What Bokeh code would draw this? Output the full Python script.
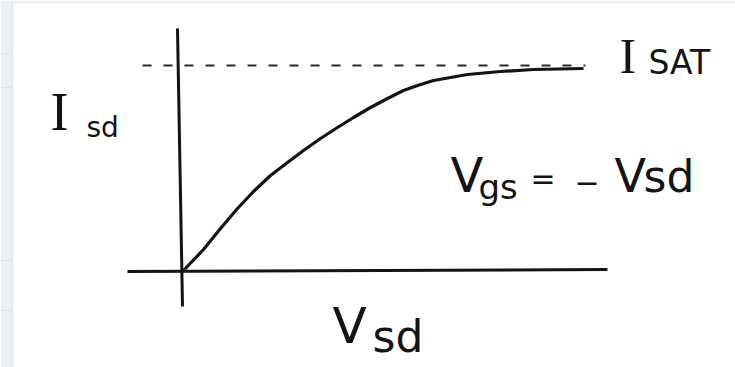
from bokeh.plotting import figure
from bokeh.models import Range1d, ColumnDataSource
from bokeh.core.properties import value
from bokeh.embed import file_html
from bokeh.resources import INLINE

# Output characteristic of the device: drain current vs. source-drain voltage
v_sd = [0.00, 0.20, 0.37, 0.54, 0.70, 0.87, 1.04, 1.20, 1.37, 1.54,
        1.70, 1.87, 2.04, 2.20, 2.34, 2.50, 2.84, 3.17, 3.50, 4.00]
i_sd = [0.00, 0.21, 0.42, 0.62, 0.79, 0.95, 1.08, 1.20, 1.32, 1.43,
        1.53, 1.63, 1.72, 1.80, 1.85, 1.90, 1.96, 1.99, 2.01, 2.02]
i_sat = 2.05

# hand-drawn axes extents
x_axis_v = [-0.56, 4.24]
x_axis_i = [-0.01, 0.01]
y_axis_v = [-0.06, -0.01]
y_axis_i = [2.42, -0.36]
sat_v = [-0.41, 4.02]

INK = "#141414"
SANS = "DejaVu Sans"
SERIF = "Liberation Serif"

p = figure(width=735, height=367, output_backend="svg", toolbar_location=None,
           x_range=Range1d(-1.83, 5.52), y_range=Range1d(-0.97, 2.70),
           min_border=0, background_fill_color="white", border_fill_color="white")
p.axis.visible = False
p.grid.visible = False
p.outline_line_color = None

# paper margin strips
p.quad(left=-1.83, right=-1.71, bottom=-0.97, top=2.70,
       fill_color="#edf1f6", line_color=None)
p.quad(left=-1.83, right=5.52, bottom=2.67, top=2.70,
       fill_color="#edf1f6", line_color=None)
p.segment(x0=-1.71, y0=-0.97, x1=-1.71, y1=2.70, line_color="#dce3ec", line_width=1)
for yy in [2.17, 1.83, 0.10, -0.40]:
    p.segment(x0=-1.83, y0=yy, x1=-1.71, y1=yy, line_color="#dfe5ee", line_width=1)

# axes
p.line(x_axis_v, x_axis_i, line_color=INK, line_width=3)
p.line(y_axis_v, y_axis_i, line_color=INK, line_width=3)

# saturation level
p.line(sat_v, [i_sat, i_sat], line_color="#2a2a2a", line_width=1.8, line_dash="9 12")

# characteristic curve
src = ColumnDataSource(dict(v=v_sd, i=i_sd))
p.line("v", "i", source=src, line_color=INK, line_width=3.2, line_join="round")

def label(txt, px, py, size, font=SANS):
    # py is the desired baseline in screen pixels; the renderer sits the
    # glyphs about 0.39 em below the anchor, so lift the anchor accordingly
    yb = py - 0.39 * size
    p.text(x=[(px - 183) / 100], y=[(270 - yb) / 100], text=[txt],
           text_font=value(font), text_font_size=f"{size}px", text_color=INK,
           text_align="left", text_baseline="alphabetic")

# I_sd
label("I", 50, 133, 54, SERIF)
label("sd", 86, 138, 28)
# I_SAT
label("I", 619, 75, 50, SERIF)
label("SAT", 648, 75, 33)
# Vgs = - Vsd
label("V", 450, 193, 48)
label("gs", 478, 200, 34)
label("=", 530, 190, 30)
label("\u2212", 574, 193, 30)
label("V", 614, 193, 46)
label("sd", 643, 193, 44)
# V_sd
label("V", 332, 345, 50)
label("sd", 372, 353, 44)

open("out.html", "w").write(file_html(p, INLINE))
